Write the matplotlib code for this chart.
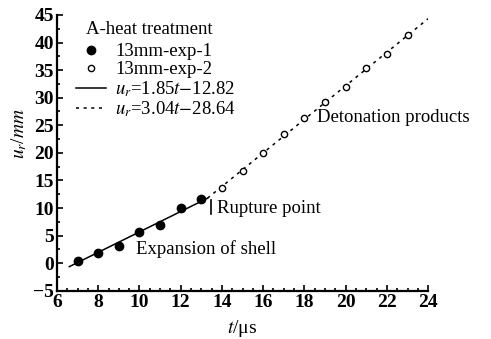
import matplotlib
matplotlib.use("Agg")
import matplotlib.pyplot as plt
import numpy as np
from matplotlib.ticker import MultipleLocator

plt.rcParams["font.family"] = ["Liberation Serif", "DejaVu Serif"]
plt.rcParams["mathtext.fontset"] = "stix"

# data
t_exp1 = [7, 8, 9, 10, 11, 12, 13]
u_exp1 = [0.5, 1.8, 3.1, 5.6, 6.9, 10.1, 11.7]
t_exp2 = [14, 15, 16, 17, 18, 19, 20, 21, 22, 23]
u_exp2 = [13.7, 16.8, 19.9, 23.4, 26.4, 29.2, 31.9, 35.3, 38.0, 41.4]

# fitted lines: u = a*t + b
fit1 = (1.85, -12.82)
fit2 = (3.04, -28.64)
fit1_range = (6.6, 13.3)
fit2_range = (13.3, 24.0)

rupture_t = 13.45
rupture_u = (9.0, 11.4)

fig = plt.figure(figsize=(4.91, 3.39), dpi=100)
ax = fig.add_axes([0.116, 0.142, 0.756, 0.814])

t1 = np.array(fit1_range)
t2 = np.array(fit2_range)
ax.plot(t1, fit1[0] * t1 + fit1[1], "k-", lw=1.1,
        label=r"$u_r$=1.85$t$$-$12.82")
ax.plot(t2, fit2[0] * t2 + fit2[1], color="k", lw=1.1, ls=(0, (2, 3)),
        label=r"$u_r$=3.04$t$$-$28.64")
ax.plot(t_exp1, u_exp1, "ko", ms=6, label="13mm-exp-1", zorder=3)
ax.plot(t_exp2, u_exp2, "o", mfc="white", mec="k", mew=1.0, ms=4.5,
        label="13mm-exp-2", zorder=3)

# rupture marker
ax.plot([rupture_t, rupture_t], rupture_u, "k-", lw=1.2)

ax.text(13.75, 9.9, "Rupture point", fontsize=13.5, va="center", ha="left")
ax.text(9.85, 2.5, "Expansion of shell", fontsize=13.5, va="center", ha="left")
ax.text(18.6, 26.4, "Detonation products", fontsize=13.5, va="center",
        ha="left", clip_on=False)

ax.set_xlim(6, 24)
ax.set_ylim(-5, 45)
ax.xaxis.set_major_locator(MultipleLocator(2))
ax.xaxis.set_minor_locator(MultipleLocator(0.5))
ax.yaxis.set_major_locator(MultipleLocator(5))
ax.yaxis.set_minor_locator(MultipleLocator(2.5))
ax.tick_params(which="both", direction="in", width=1.2, pad=2,
               labelsize=14)
ax.tick_params(which="major", length=4)
ax.tick_params(which="minor", length=2.5)
for lab in ax.get_xticklabels() + ax.get_yticklabels():
    lab.set_fontweight("bold")

for s in ["top", "right"]:
    ax.spines[s].set_visible(False)
for s in ["left", "bottom"]:
    ax.spines[s].set_linewidth(1.6)

ax.set_xlabel(r"$t$/μs", fontsize=14, labelpad=5)
ax.set_ylabel(r"$u_r$/$mm$", fontsize=14, labelpad=0)
ax.yaxis.set_label_coords(-0.075, 0.57)

# legend (title placed as its own text, indented like the original)
ax.text(0.078, 0.946, "A-heat treatment", fontsize=13.5, va="center",
        ha="left", transform=ax.transAxes)
h, l = ax.get_legend_handles_labels()
order = [2, 3, 0, 1]
leg = ax.legend([h[i] for i in order], [l[i] for i in order],
                loc="upper left", bbox_to_anchor=(0.045, 0.905),
                frameon=False, fontsize=13.5, handlelength=1.6,
                handletextpad=0.5, labelspacing=0.05, borderpad=0.1,
                borderaxespad=0)

fig.savefig("out.png", dpi=100)
